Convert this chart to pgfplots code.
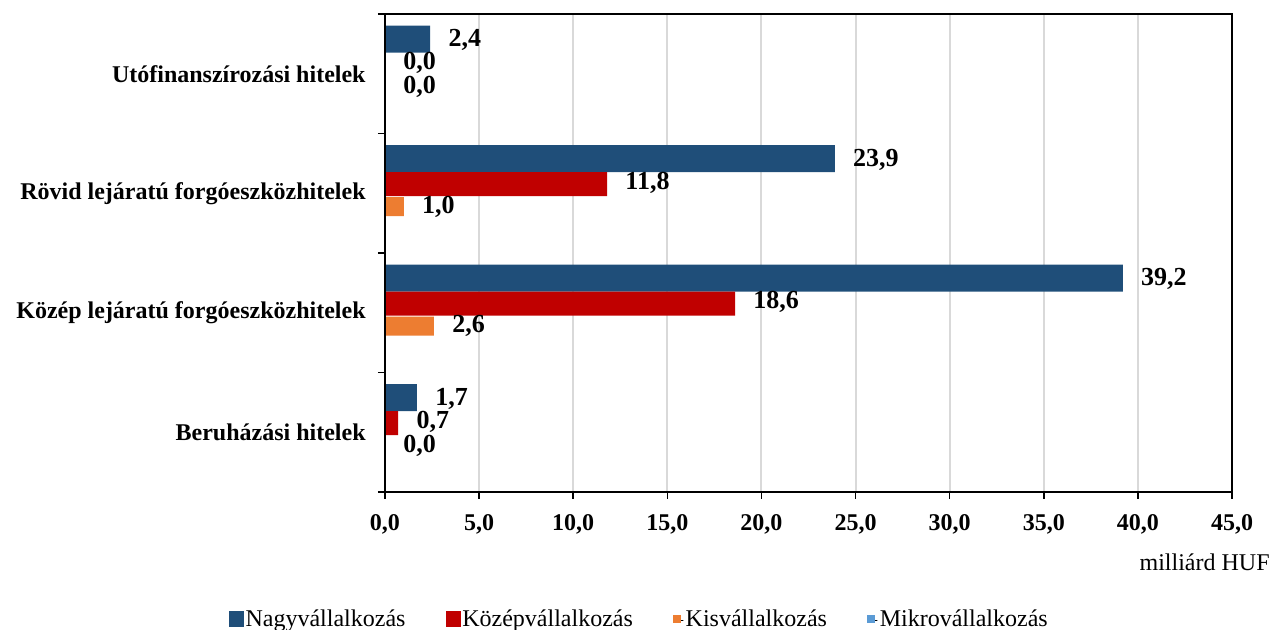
\documentclass[12pt,border=0pt]{standalone}
\usepackage{fontspec}
\setmainfont{Liberation Serif}
\usepackage{pgfplots}
\usepackage{pgfplotstable}
\pgfplotsset{compat=1.18}

\definecolor{cNagy}{RGB}{31,78,121}
\definecolor{cKozep}{RGB}{192,0,0}
\definecolor{cKis}{RGB}{237,125,49}
\definecolor{cMikro}{RGB}{91,155,213}
\definecolor{cGrid}{RGB}{217,217,217}

% y: 0 = Beruházási, 1 = Közép lejáratú, 2 = Rövid lejáratú, 3 = Utófinanszírozási
\pgfplotstableread{
y nagy kozep kis
0 1.7  0.7  0.0
1 39.2 18.6 2.6
2 23.9 11.8 1.0
3 2.4  0.0  0.0
}\hitelek

\begin{document}
\begin{tikzpicture}
\path[use as bounding box] (-192.5pt,-69pt) rectangle (444pt,246pt);
\begin{axis}[
  at={(0,0)}, anchor=south west,
  scale only axis,
  width=423.5pt, height=239pt,
  clip=false,
  xmin=0, xmax=45,
  ymin=-0.5, ymax=3.5,
  xtick={0,5,...,45},
  ytick={0,1,2,3},
  yticklabels={Beruházási hitelek, Közép lejáratú forgóeszközhitelek, Rövid lejáratú forgóeszközhitelek, Utófinanszírozási hitelek},
  minor ytick={-0.5,0.5,1.5,2.5,3.5},
  major y tick style={draw=none},
  tick align=outside,
  xtick pos=bottom, ytick pos=left,
  major tick length=3.5pt,
  minor tick length=3.5pt,
  every tick/.style={black, line width=0.8pt},
  axis line style={line width=0.8pt},
  xmajorgrids,
  grid style={cGrid, line width=1pt},
  /pgf/number format/.cd, fixed, fixed zerofill, precision=1, use comma, assume math mode=true,
  /pgfplots/.cd,
  xticklabel style={font=\bfseries, yshift=-3.5pt},
  yticklabel style={font=\bfseries, xshift=-2pt},
  nodes near coords={\pgfmathprintnumber{\pgfplotspointmeta}},
  every node near coord/.append style={font=\fontsize{13}{15}\selectfont\bfseries, anchor=west, inner sep=0pt, xshift=9pt, black},
  point meta=x,
  legend columns=4,
  legend style={draw=none, at={(-0.192,-0.268)}, anchor=west,
    /tikz/every even column/.append style={column sep=19pt},
    nodes={inner sep=1pt}},
]
\addplot[xbar, fill=cNagy, draw=none, bar width=13.5pt, bar shift=17.25pt, forget plot,
  every node near coord/.append style={yshift=16.75pt}]
  table[x=nagy, y=y] {\hitelek};
\addplot[xbar, fill=cKozep, draw=none, bar width=12pt, bar shift=4.5pt, forget plot,
  every node near coord/.append style={yshift=5.25pt}]
  table[x=kozep, y=y] {\hitelek};
\addplot[xbar, fill=cKis, draw=none, bar width=9.5pt, bar shift=-6.75pt, forget plot,
  every node near coord/.append style={yshift=-6.75pt}]
  table[x=kis, y=y] {\hitelek};

\addlegendimage{legend image code/.code={\fill[cNagy] (0pt,-3pt) rectangle (7pt,4.5pt);}}
\addlegendentry{Nagyvállalkozás}
\addlegendimage{legend image code/.code={\fill[cKozep] (0pt,-3pt) rectangle (7pt,4.5pt);}}
\addlegendentry{Középvállalkozás}
\addlegendimage{legend image code/.code={\path (0pt,0pt) rectangle (5pt,0pt); \fill[cKis] (0pt,-1pt) rectangle (3.5pt,2.5pt);}}
\addlegendentry{Kisvállalkozás}
\addlegendimage{legend image code/.code={\path (0pt,0pt) rectangle (5pt,0pt); \fill[cMikro] (0pt,-1pt) rectangle (3.5pt,2.5pt);}}
\addlegendentry{Mikrovállalkozás}

\draw[line width=0.8pt] (rel axis cs:0,0) rectangle (rel axis cs:1,1);
\node[anchor=east, inner sep=0pt] at (rel axis cs:1.0449,-0.146) {milliárd HUF};
\end{axis}
\end{tikzpicture}
\end{document}
